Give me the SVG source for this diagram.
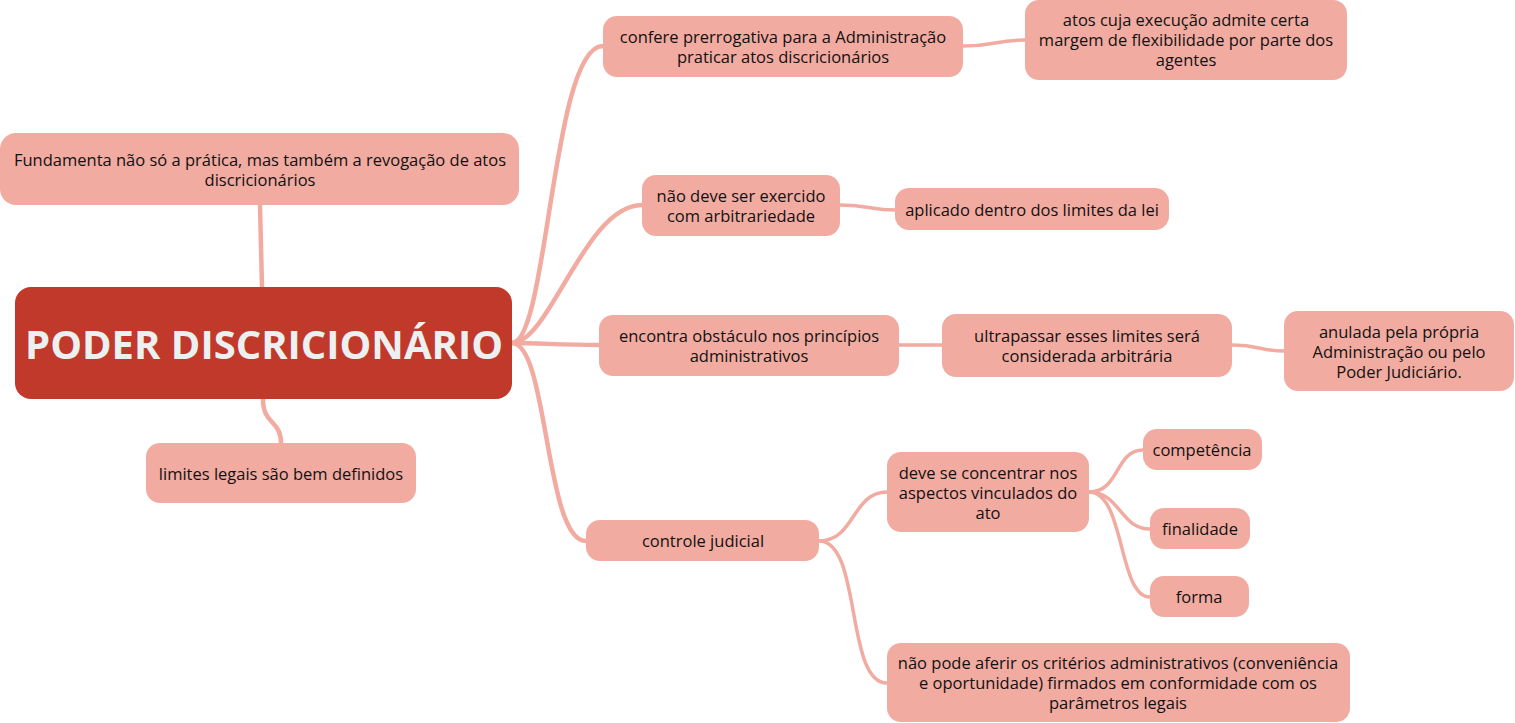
<svg xmlns="http://www.w3.org/2000/svg" width="1515" height="723" viewBox="0 0 1515 723">
<style>
.n{fill:#F2ABA1}
.t{font-family:"Open Sans","Noto Sans",sans-serif;font-size:16.5px;fill:#111111;text-anchor:middle}
.c{fill:none;stroke:#F2ABA1;stroke-width:4.5;stroke-linecap:round}
.c2{fill:none;stroke:#F2ABA1;stroke-width:3.5;stroke-linecap:round}
</style>
<rect width="1515" height="723" fill="#ffffff"/>
<g id="connectors">
<path class="c" d="M512,343 C548,343 552,46 603,46"/>
<path class="c" d="M512,343 C550,343 585,205 642,205"/>
<path class="c" d="M512,343 C540,343 560,345 599,345"/>
<path class="c" d="M512,343 C548,343 545,541 586,541"/>
<path class="c" d="M262,287 L260,205"/>
<path class="c" d="M263,399 C263,425 281,420 281,443"/>
<path class="c2" d="M963,46 C995,46 995,40 1025,40"/>
<path class="c2" d="M840,205 C870,205 870,210 895,210"/>
<path class="c2" d="M899,345 C920,345 920,345 942,345"/>
<path class="c2" d="M1232,345 C1260,345 1260,351 1284,351"/>
<path class="c2" d="M819,541 C855,541 852,492 887,492"/>
<path class="c2" d="M819,541 C862,541 845,683 887,683"/>
<path class="c2" d="M1089,492 C1120,492 1115,450 1143,450"/>
<path class="c2" d="M1089,492 C1120,492 1120,529 1150,529"/>
<path class="c2" d="M1089,492 C1125,492 1118,597 1150,597"/>
</g>
<g id="root">
<rect x="15" y="287" width="497" height="112" rx="16" fill="#C0392B"/>
<text x="264" y="359" font-family="'Open Sans','Noto Sans',sans-serif" font-size="40" font-weight="bold" fill="#ECF0F1" text-anchor="middle">PODER DISCRICIONÁRIO</text>
</g>
<g id="fundamenta">
<rect class="n" x="0" y="133" width="519" height="72" rx="16"/>
<text class="t" x="260" y="166">Fundamenta não só a prática, mas também a revogação de atos</text>
<text class="t" x="260" y="186">discricionários</text>
</g>
<g id="limites">
<rect class="n" x="146" y="443" width="270" height="60" rx="14"/>
<text class="t" x="281" y="480">limites legais são bem definidos</text>
</g>
<g id="confere">
<rect class="n" x="603" y="16" width="360" height="61" rx="14"/>
<text class="t" x="783" y="43">confere prerrogativa para a Administração</text>
<text class="t" x="783" y="63">praticar atos discricionários</text>
</g>
<g id="atos">
<rect class="n" x="1025" y="0" width="322" height="80" rx="14"/>
<text class="t" x="1186" y="26">atos cuja execução admite certa</text>
<text class="t" x="1186" y="46">margem de flexibilidade por parte dos</text>
<text class="t" x="1186" y="66">agentes</text>
</g>
<g id="naodeve">
<rect class="n" x="642" y="175" width="198" height="61" rx="14"/>
<text class="t" x="741" y="202">não deve ser exercido</text>
<text class="t" x="741" y="222">com arbitrariedade</text>
</g>
<g id="aplicado">
<rect class="n" x="895" y="188" width="274" height="42" rx="14"/>
<text class="t" x="1032" y="216">aplicado dentro dos limites da lei</text>
</g>
<g id="encontra">
<rect class="n" x="599" y="315" width="300" height="61" rx="14"/>
<text class="t" x="749" y="342">encontra obstáculo nos princípios</text>
<text class="t" x="749" y="362">administrativos</text>
</g>
<g id="ultrapassar">
<rect class="n" x="942" y="314" width="290" height="63" rx="14"/>
<text class="t" x="1087" y="342">ultrapassar esses limites será</text>
<text class="t" x="1087" y="362">considerada arbitrária</text>
</g>
<g id="anulada">
<rect class="n" x="1284" y="311" width="230" height="80" rx="14"/>
<text class="t" x="1399" y="338">anulada pela própria</text>
<text class="t" x="1399" y="358">Administração ou pelo</text>
<text class="t" x="1399" y="378">Poder Judiciário.</text>
</g>
<g id="controle">
<rect class="n" x="586" y="520" width="233" height="41" rx="14"/>
<text class="t" x="703" y="547">controle judicial</text>
</g>
<g id="deve">
<rect class="n" x="887" y="452" width="202" height="80" rx="14"/>
<text class="t" x="988" y="479">deve se concentrar nos</text>
<text class="t" x="988" y="499">aspectos vinculados do</text>
<text class="t" x="988" y="519">ato</text>
</g>
<g id="competencia">
<rect class="n" x="1143" y="429" width="119" height="41" rx="14"/>
<text class="t" x="1202" y="456">competência</text>
</g>
<g id="finalidade">
<rect class="n" x="1150" y="508" width="100" height="41" rx="14"/>
<text class="t" x="1200" y="535">finalidade</text>
</g>
<g id="forma">
<rect class="n" x="1150" y="576" width="99" height="41" rx="14"/>
<text class="t" x="1199" y="603">forma</text>
</g>
<g id="naopode">
<rect class="n" x="887" y="643" width="463" height="79" rx="14"/>
<text class="t" x="1118" y="669">não pode aferir os critérios administrativos (conveniência</text>
<text class="t" x="1118" y="689">e oportunidade) firmados em conformidade com os</text>
<text class="t" x="1118" y="709">parâmetros legais</text>
</g>
</svg>
